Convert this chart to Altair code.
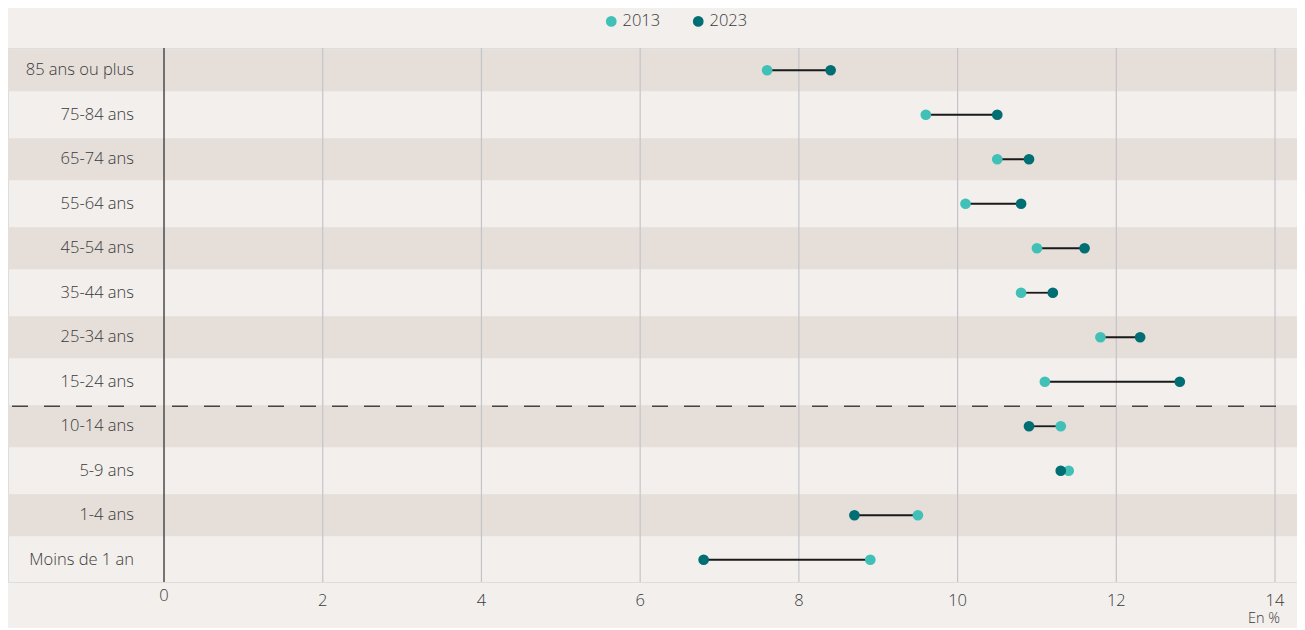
import altair as alt
import pandas as pd

categories = ["85 ans ou plus", "75-84 ans", "65-74 ans", "55-64 ans", "45-54 ans",
              "35-44 ans", "25-34 ans", "15-24 ans", "10-14 ans", "5-9 ans",
              "1-4 ans", "Moins de 1 an"]
v2013 = [7.6, 9.6, 10.5, 10.1, 11.0, 10.8, 11.8, 11.1, 11.3, 11.4, 9.5, 8.9]
v2023 = [8.4, 10.5, 10.9, 10.8, 11.6, 11.2, 12.3, 12.8, 10.9, 11.3, 8.7, 6.8]
years = ["2013", "2023"]
colors = ["#40c0b6", "#006e73"]
grid_values = [0, 2, 4, 6, 8, 10, 12, 14]
separator_before = "10-14 ans"
unit_label = "En %"

FONT = "Open Sans"
FW = 300
TXT = "#3a3a3a"
W, H = 1289, 534
X0, X1 = -1.966, 14.277

n = len(categories)
wide = pd.DataFrame({
    "cat": categories,
    "y2013": v2013,
    "y2023": v2023,
    "shade": [i % 2 == 0 for i in range(n)],
})
long = pd.DataFrame({
    "cat": categories * 2,
    "year": [years[0]] * n + [years[1]] * n,
    "value": v2013 + v2023,
    "order": [0] * n + [1] * n,
})
grid = pd.DataFrame({"v": grid_values})

xscale = alt.Scale(domain=[X0, X1], nice=False, zero=False)
yscale = alt.Scale(domain=categories, paddingInner=0, paddingOuter=0)
Y = alt.Y("cat:N", scale=yscale, axis=None, sort=categories)

bands = alt.Chart(wide).transform_filter("datum.shade").mark_bar(
    orient="horizontal", size=42, color="#e5ded9"
).encode(y=Y, x=alt.value(0), x2=alt.value(W))

grid_rules = alt.Chart(grid).transform_filter("datum.v != 0").mark_rule(
    color="#c4c4c8", strokeWidth=1.2
).encode(x=alt.X("v:Q", scale=xscale, axis=None), y=alt.value(0), y2=alt.value(H))

zero_rule = alt.Chart(grid).transform_filter("datum.v == 0").mark_rule(
    color="#555555", strokeWidth=1.6
).encode(x=alt.X("v:Q", scale=xscale, axis=None), y=alt.value(0), y2=alt.value(H))

tick0 = alt.Chart(grid).transform_filter("datum.v == 0").mark_text(
    fontSize=16.5, color=TXT, font=FONT, fontWeight=FW, baseline="middle"
).encode(x=alt.X("v:Q", scale=xscale), y=alt.value(H + 14), text="v:Q")

ticks = alt.Chart(grid).transform_filter("datum.v != 0").mark_text(
    fontSize=16.5, color=TXT, font=FONT, fontWeight=FW, baseline="middle"
).encode(x=alt.X("v:Q", scale=xscale), y=alt.value(H + 19), text="v:Q")

sep = alt.Chart(pd.DataFrame({"cat": [separator_before]})).mark_rule(
    strokeDash=[16, 16], color="#444444", strokeWidth=1.5, yOffset=-20
).encode(y=Y, x=alt.value(4), x2=alt.value(1284))

links = alt.Chart(wide).mark_rule(color="#1a1a1a", strokeWidth=1.8).encode(
    y=Y, x=alt.X("y2013:Q", scale=xscale), x2="y2023:Q"
)

points = alt.Chart(long).mark_circle(size=115, opacity=1).encode(
    y=Y,
    x=alt.X("value:Q", scale=xscale),
    color=alt.Color(
        "year:N",
        scale=alt.Scale(domain=years, range=colors),
        legend=alt.Legend(
            orient="none", legendX=595, legendY=-35, direction="horizontal",
            title=None, symbolType="circle", symbolSize=115, symbolStrokeWidth=0,
            labelFontSize=16.5, labelColor=TXT, labelFont=FONT,
            labelFontWeight=FW, columnPadding=29, labelOffset=3,
        ),
    ),
    order="order:Q",
)

ylabels = alt.Chart(wide).mark_text(
    align="right", baseline="middle", fontSize=16.5, color=TXT,
    font=FONT, fontWeight=FW
).encode(y=Y, x=alt.value(126), text="cat:N")

unit = alt.Chart(pd.DataFrame({"t": [unit_label]})).mark_text(
    align="right", baseline="middle", fontSize=14.5, color=TXT,
    font=FONT, fontWeight=FW
).encode(x=alt.value(1272), y=alt.value(H + 37), text="t:N")

chart = alt.layer(
    bands, grid_rules, zero_rule, sep, links, points, ylabels, tick0, ticks, unit
).properties(
    width=W, height=H,
    autosize=alt.AutoSizeParams(type="none"),
    padding={"left": 0, "top": 40, "right": 0, "bottom": 46},
    background="#f2efec",
).configure_view(stroke=None).configure(font=FONT)

chart.save("out.html", embed_options={"renderer": "svg", "actions": False})
